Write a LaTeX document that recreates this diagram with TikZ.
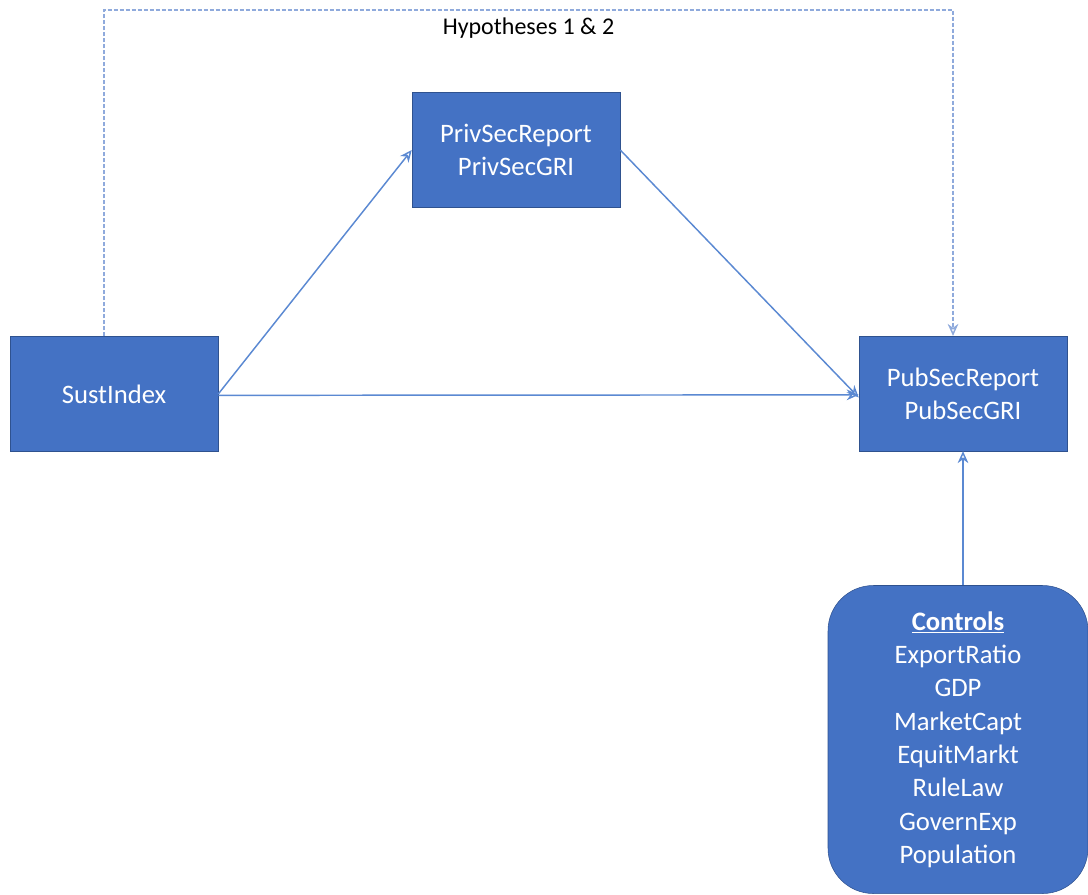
\documentclass[tikz,border=0pt]{standalone}
\usepackage{fontspec}
\setmainfont{Carlito}
\usepackage{tikz}
\usetikzlibrary{arrows.meta,positioning}
\definecolor{boxblue}{RGB}{68,114,196}
\definecolor{boxedge}{RGB}{47,82,143}
\definecolor{lineblue}{RGB}{91,137,210}
\definecolor{dashblue}{RGB}{143,170,220}

\begin{document}
\begin{tikzpicture}[x=0.75pt,y=-0.75pt,>={Stealth[length=9pt,width=8pt,open]},
    every node/.style={align=center},
    varbox/.style={draw=boxedge,fill=boxblue,text=white,font=\fontsize{20}{25}\selectfont,
      minimum width=156pt,minimum height=86pt,inner sep=0pt},
    link/.style={->,lineblue,line width=1.1pt}]
  \useasboundingbox (0,0) rectangle (1088,894);
  \node[varbox] (sust) at (114,394) {SustIndex};
  \node[varbox] (priv) at (516,150) {PrivSecReport\\PrivSecGRI};
  \node[varbox] (pub) at (963,393.5) {PubSecReport\\PubSecGRI};
  \node[varbox,rounded corners=34pt,minimum width=195pt,minimum height=231pt] (ctrl) at (958,739.5) {
    \underline{\textbf{Controls}}\\
    ExportRatio\\
    GDP\\
    MarketCapt\\
    EquitMarkt\\
    RuleLaw\\
    GovernExp\\
    Population
  };
  \coordinate (hl) at (104,10);
  \coordinate (hr) at (953,10);
  \draw[link] (sust.east) -- (priv.west);
  \draw[link] (priv.east) -- ([yshift=-3pt]pub.west);
  \draw[link] ([yshift=-1pt]sust.east) -- ([yshift=-1pt]pub.west);
  \draw[link] (ctrl.north -| pub.south) -- (pub.south);
  \draw[link,dashblue,dashed,dash pattern=on 3pt off 1.5pt] (sust.north -| hl) -- (hl) -- node[below=2pt,text=black,font=\fontsize{18}{20}\selectfont]{Hypotheses 1 \& 2} (hr) -- (pub.north -| hr);
\end{tikzpicture}
\end{document}
